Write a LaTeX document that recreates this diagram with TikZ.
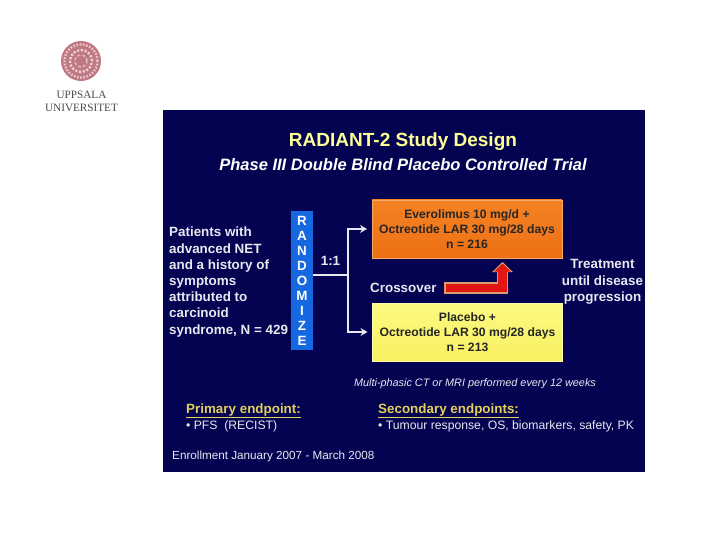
\documentclass[tikz,border=0pt]{standalone}
\usepackage{fontspec}
\setmainfont{Liberation Sans}
\newfontfamily\logofont{Liberation Serif}
\usepackage{xcolor}
\usetikzlibrary{arrows.meta, positioning, calc}
\definecolor{radiant-navy}{RGB}{3, 3, 82}
\definecolor{radiant-blue}{RGB}{22, 104, 224}
\definecolor{radiant-title}{RGB}{255, 255, 150}
\definecolor{radiant-gold}{RGB}{226, 208, 90}
\definecolor{radiant-text}{RGB}{232, 232, 240}
\definecolor{radiant-red}{RGB}{226, 22, 18}
\definecolor{radiant-tan}{RGB}{214, 160, 110}
\definecolor{radiant-orange}{RGB}{238, 112, 20}
\definecolor{radiant-orangetop}{RGB}{244, 130, 36}
\definecolor{radiant-yellow}{RGB}{248, 240, 96}
\definecolor{radiant-yellowtop}{RGB}{252, 250, 130}
\definecolor{seal-red}{RGB}{176, 88, 100}

\begin{document}
\begin{tikzpicture}[
  x=1pt, y=-1pt,
  armbox/.style={rectangle, minimum width=190pt, minimum height=58pt, inner sep=0pt, outer sep=0pt,
                 align=center, text=black!85, font=\fontsize{12.15}{15.2}\bfseries\selectfont},
  lbl/.style={text=radiant-text, align=center, inner sep=0pt, font=\fontsize{13.4}{16.2}\bfseries\selectfont},
  lbll/.style={lbl, align=left, anchor=west},
  head/.style={text=radiant-gold, anchor=west, inner sep=0pt, font=\fontsize{13.4}{15}\bfseries\selectfont},
  bul/.style={text=radiant-text, anchor=west, inner sep=0pt, font=\fontsize{12.2}{14}\selectfont},
  arr/.style={-{Stealth[length=7pt, width=8pt]}, line width=2pt, color=radiant-text, shorten >=5pt},
  seg/.style={line width=2pt, color=radiant-text}
]
  \useasboundingbox (0,0) rectangle (720,540);
  \fill[white] (0,0) rectangle (720,540);

  % logo
  \node[circle, minimum size=40pt, inner sep=0pt, fill=seal-red!80] (seal) at (81,61) {};
  \draw[white!70!seal-red, line width=2.2pt, dash pattern=on 1.6pt off 1.6pt] (seal.center) circle (16.5pt);
  \draw[white!75!seal-red, line width=2.2pt, dash pattern=on 2.2pt off 1.6pt] (seal.center) circle (11pt);
  \draw[white!60!seal-red, line width=1.4pt, dash pattern=on 3pt off 2pt] (seal.center) circle (6pt);
  \node[inner sep=0pt, text=black!70, font=\fontsize{11.2}{13}\logofont\selectfont, align=center] (logo)
    at (81.5,101.5) {UPPSALA\\UNIVERSITET};

  % slide
  \fill[radiant-navy] (163,110) rectangle (645,472);
  \node[inner sep=0pt, text=radiant-title, font=\fontsize{19}{22}\bfseries\selectfont] (title) at (403,142) {RADIANT-2 Study Design};
  \node[inner sep=0pt, text=white, font=\fontsize{16.5}{20}\bfseries\itshape\selectfont] (sub) at (403,165)
    {Phase III Double Blind Placebo Controlled Trial};

  \node[lbll] (pat) at (169,282) {Patients with\\advanced NET\\and a history of\\symptoms\\attributed to\\carcinoid\\syndrome, N = 429};
  \node[rectangle, fill=radiant-blue, minimum width=22pt, minimum height=139pt, inner sep=0pt, outer sep=0pt,
        text=white, align=center, font=\fontsize{13.4}{15}\bfseries\selectfont] (rand) at (302,280.5)
    {R\\A\\N\\D\\O\\M\\I\\Z\\E};

  \node[armbox, top color=radiant-orangetop, bottom color=radiant-orange, draw=radiant-orangetop!70!white] (evero) at (467,229)
    {Everolimus 10 mg/d +\\Octreotide LAR 30 mg/28 days\\n = 216};
  \node[armbox, top color=radiant-yellowtop, bottom color=radiant-yellow, draw=radiant-yellowtop!70!white] (plac) at (467.5,332)
    {Placebo +\\Octreotide LAR 30 mg/28 days\\n = 213};

  \coordinate (branch) at (348,275);
  \draw[seg] (rand.east |- branch) -- node[lbl, above=9pt]{1:1} (branch);
  \draw[arr] (branch) |- (evero.west);
  \draw[arr] (branch) |- (plac.west);

  % crossover arrow
  \node[lbl, anchor=west] (cross) at (370,288) {Crossover};
  \coordinate (crossa) at (444,288);
  \coordinate (crossb) at (502.5,262);
  \draw[line width=11.5pt, color=radiant-tan, -{Triangle[length=10pt, width=20pt]}] (crossa) -| (crossb);
  \draw[line width=8.5pt, color=radiant-red, -{Triangle[length=8pt, width=16pt]}] ($(crossa)+(1.5,0)$) -| ($(crossb)+(0,1.5)$);

  \node[lbl] (treat) at (602.5,282) {Treatment\\until disease\\progression};

  \node[inner sep=0pt, text=radiant-text, font=\fontsize{10.85}{13}\itshape\selectfont] (multi) at (475,384)
    {Multi-phasic CT or MRI performed every 12 weeks};

  \node[head] (prim) at (186,411) {\underline{Primary endpoint:}};
  \node[bul] (pfs) at (186,426) {• PFS\ \ (RECIST)};
  \node[head] (sec) at (378,411) {\underline{Secondary endpoints:}};
  \node[bul] (tum) at (378,426) {• Tumour response, OS, biomarkers, safety, PK};
  \node[bul, font=\fontsize{11.7}{14}\selectfont] (enr) at (172,456.5) {Enrollment January 2007 - March 2008};
\end{tikzpicture}
\end{document}
